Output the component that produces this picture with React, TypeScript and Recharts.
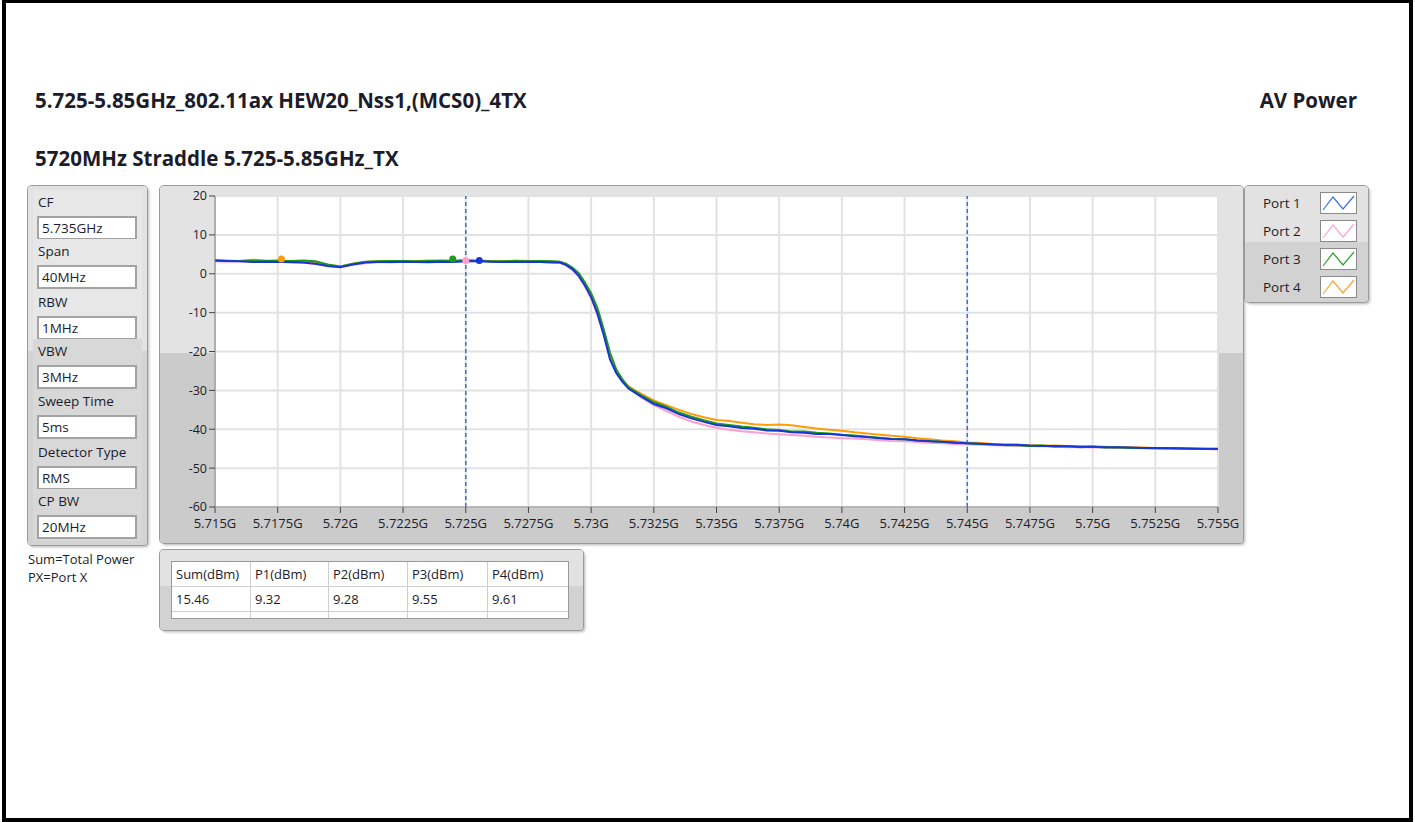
import React from 'react';
import { LineChart, Line, XAxis, YAxis, CartesianGrid, ReferenceLine, ReferenceDot } from 'recharts';

// sweep frequencies in MHz (denser around the band edge)
const FREQ = [
  5715, 5715.5, 5716, 5716.5, 5717, 5717.5, 5718, 5718.5, 5719, 5719.5,
  5720, 5720.5, 5721, 5721.5, 5722, 5722.5, 5723, 5723.5, 5724, 5724.5,
  5725, 5725.5, 5726, 5726.5, 5727, 5727.5, 5728, 5728.5,
  5728.75, 5729, 5729.25, 5729.5, 5729.75, 5730, 5730.25, 5730.5, 5730.75, 5731, 5731.25, 5731.5,
  5732, 5732.5, 5733, 5733.5, 5734, 5734.5, 5735, 5735.5, 5736, 5736.5,
  5737, 5737.5, 5738, 5738.5, 5739, 5739.5, 5740, 5740.5, 5741, 5741.5,
  5742, 5742.5, 5743, 5743.5, 5744, 5744.5, 5745, 5745.5, 5746, 5746.5,
  5747, 5747.5, 5748, 5748.5, 5749, 5749.5, 5750, 5750.5, 5751, 5751.5,
  5752, 5752.5, 5753, 5753.5, 5754, 5754.5, 5755,
];

const PORT1 = [
  3.4, 3.3, 3.2, 3.0, 3.1, 3.0, 3.0, 2.9, 2.6, 2.0, 1.7, 2.4, 2.9, 3.0, 3.0, 3.1, 3.0, 3.0, 3.1, 3.0,
  3.2, 3.3, 3.1, 3.0, 3.0, 3.1, 3.0, 2.9,
  2.9, 2.3, 1.2, -0.5, -3.0, -6.0, -10.2, -15.6, -22.0, -25.5, -27.8, -29.6,
  -31.6, -33.5, -34.6, -36.1, -37.2, -38.1, -38.9, -39.2, -39.7, -39.9,
  -40.3, -40.4, -40.8, -40.9, -41.2, -41.2, -41.5, -41.8, -42.0, -42.3,
  -42.5, -42.6, -42.9, -43.1, -43.2, -43.5, -43.6, -43.7, -43.9, -44.0,
  -44.0, -44.2, -44.3, -44.3, -44.4, -44.5, -44.5, -44.6, -44.6, -44.7,
  -44.8, -44.8, -44.9, -44.9, -45.0, -45.0, -45.1,
];

const PORT2 = [
  3.2, 3.1, 3.2, 3.1, 3.0, 3.2, 2.8, 2.9, 2.5, 1.9, 1.8, 2.3, 2.7, 3.0, 2.9, 3.1, 3.0, 2.8, 3.1, 3.1,
  3.3, 3.2, 3.1, 3.0, 3.1, 3.0, 3.0, 2.9,
  2.8, 2.1, 1.0, -0.6, -3.2, -6.3, -10.6, -15.8, -21.6, -25.4, -27.6, -29.4,
  -31.8, -33.8, -35.3, -36.8, -38.0, -38.9, -39.6, -40.1, -40.5, -40.8,
  -41.1, -41.3, -41.5, -41.7, -41.9, -42.1, -42.3, -42.4, -42.6, -42.8,
  -43.0, -43.1, -43.3, -43.5, -43.6, -43.8, -43.9, -44.0, -44.1, -44.2,
  -44.3, -44.4, -44.4, -44.5, -44.6, -44.6, -44.7, -44.7, -44.8, -44.9,
  -44.9, -45.0, -45.0, -45.1, -45.1, -45.1, -45.2,
];

const PORT3 = [
  3.4, 3.3, 3.3, 3.4, 3.3, 3.4, 3.3, 3.4, 3.2, 2.4, 1.9, 2.6, 3.1, 3.2, 3.3, 3.3, 3.2, 3.3, 3.4, 3.3,
  3.5, 3.3, 3.2, 3.2, 3.3, 3.2, 3.3, 3.2,
  3.1, 2.6, 1.6, 0.2, -2.2, -5.0, -8.8, -14.2, -20.2, -24.6, -27.2, -29.2,
  -31.2, -33.0, -34.2, -35.7, -36.8, -37.7, -38.5, -38.9, -39.3, -39.6,
  -40.0, -40.2, -40.6, -40.6, -40.9, -41.1, -41.4, -41.6, -41.9, -42.2,
  -42.5, -42.6, -42.9, -43.0, -43.3, -43.4, -43.6, -43.8, -43.8, -44.1,
  -44.1, -44.3, -44.2, -44.5, -44.4, -44.6, -44.5, -44.7, -44.6, -44.8,
  -44.8, -44.9, -44.8, -45.0, -45.0, -45.1, -45.0,
];

const PORT4 = [
  3.5, 3.4, 3.3, 3.6, 3.4, 3.3, 3.2, 3.1, 2.8, 2.2, 1.9, 2.6, 3.0, 3.2, 3.2, 3.3, 3.3, 3.4, 3.3, 3.4,
  3.5, 3.4, 3.3, 3.2, 3.4, 3.3, 3.2, 3.1,
  3.0, 2.4, 1.3, -0.3, -2.8, -5.7, -9.9, -15.2, -21.2, -25.1, -27.4, -29.0,
  -30.9, -32.6, -33.8, -35.0, -36.1, -36.9, -37.6, -37.9, -38.3, -38.7,
  -38.9, -38.8, -39.0, -39.4, -39.8, -40.1, -40.4, -40.8, -41.1, -41.4,
  -41.7, -41.9, -42.3, -42.6, -42.9, -43.1, -43.4, -43.5, -43.8, -43.9,
  -44.0, -44.1, -44.2, -44.2, -44.3, -44.4, -44.4, -44.5, -44.6, -44.6,
  -44.7, -44.8, -44.8, -44.9, -44.9, -45.0, -45.0,
];

const X_TICKS = [5715, 5717.5, 5720, 5722.5, 5725, 5727.5, 5730, 5732.5, 5735, 5737.5, 5740, 5742.5, 5745, 5747.5, 5750, 5752.5, 5755];
const X_LABELS = ['5.715G', '5.7175G', '5.72G', '5.7225G', '5.725G', '5.7275G', '5.73G', '5.7325G', '5.735G', '5.7375G', '5.74G', '5.7425G', '5.745G', '5.7475G', '5.75G', '5.7525G', '5.755G'];
const Y_TICKS = [-60, -50, -40, -30, -20, -10, 0, 10, 20];

const CURSORS = [5725, 5745];

// peak markers per port
const MARKER_PORT = ['Port 4', 'Port 3', 'Port 2', 'Port 1'];
const MARKER_FREQ = [5717.65, 5724.48, 5725.0, 5725.54];
const MARKER_LEVEL = [3.8, 3.8, 3.4, 3.4];

const PORT_NAMES = ['Port 1', 'Port 2', 'Port 3', 'Port 4'];
const PORT_COLORS: Record<string, string> = {
  'Port 1': '#1537d6',
  'Port 2': '#ff9ed0',
  'Port 3': '#1f9a1f',
  'Port 4': '#ff9c0a',
};
const LEGEND_COLORS: Record<string, string> = {
  'Port 1': '#3b6ee8',
  'Port 2': '#ffa6d2',
  'Port 3': '#2aa02a',
  'Port 4': '#ffa028',
};

const SETTINGS = [
  { label: 'CF', value: '5.735GHz' },
  { label: 'Span', value: '40MHz' },
  { label: 'RBW', value: '1MHz' },
  { label: 'VBW', value: '3MHz' },
  { label: 'Sweep Time', value: '5ms' },
  { label: 'Detector Type', value: 'RMS' },
  { label: 'CP BW', value: '20MHz' },
];

const TABLE_HEAD = ['Sum(dBm)', 'P1(dBm)', 'P2(dBm)', 'P3(dBm)', 'P4(dBm)'];
const TABLE_VALUES = ['15.46', '9.32', '9.28', '9.55', '9.61'];

const FONT = '"Segoe UI", "Open Sans", sans-serif';
const TEXT = '#1c1c2a';

const rows = FREQ.map((f, i) => ({ f, p1: PORT1[i], p2: PORT2[i], p3: PORT3[i], p4: PORT4[i] }));

const panelStyle: React.CSSProperties = {
  position: 'absolute',
  borderRadius: 4,
  boxShadow: '0 0 0 1px #9a9a9a, 2px 2px 3px rgba(0,0,0,0.3)',
};

const LegendIcon = ({ color }: { color: string }) => (
  <svg width={37} height={22} style={{ position: 'absolute', left: 75, top: 3, background: '#fff', boxShadow: 'inset 0 0 0 1px #8a8a8a' }}>
    <polyline points="3,18 13,5 23,17 34,4" fill="none" stroke={color} strokeWidth={1.2} />
  </svg>
);

export default function App() {
  const boxTops = [30, 79, 130, 179, 229, 280, 329];
  const colW = [79, 78, 79, 80, 80];

  return (
    <div style={{ position: 'absolute', left: 0, top: 0, width: 1415, height: 822, background: '#fff', fontFamily: FONT, color: TEXT }}>
      <div style={{ position: 'absolute', left: 2, top: 0, width: 1411, height: 822, border: '4px solid #000', borderTopWidth: 3, boxSizing: 'border-box' }} />

      <div style={{ position: 'absolute', left: 35, top: 87, fontSize: 20.5, fontWeight: 700, lineHeight: '26px', whiteSpace: 'nowrap' }}>
        5.725-5.85GHz_802.11ax HEW20_Nss1,(MCS0)_4TX
      </div>
      <div style={{ position: 'absolute', left: 1157, width: 200, top: 87, fontSize: 20.5, fontWeight: 700, lineHeight: '26px', textAlign: 'right' }}>
        AV Power
      </div>
      <div style={{ position: 'absolute', left: 35, top: 145, fontSize: 20.5, fontWeight: 700, lineHeight: '26px', whiteSpace: 'nowrap' }}>
        5720MHz Straddle 5.725-5.85GHz_TX
      </div>

      {/* settings panel */}
      <div style={{ ...panelStyle, left: 28, top: 186, width: 119, height: 359, background: 'linear-gradient(#e2e2e2 0%, #e2e2e2 46%, #d3d3d3 46%, #d3d3d3 100%)' }}>
        {SETTINGS.map((s, i) => (
          <React.Fragment key={s.label}>
            <div style={{ position: 'absolute', left: 5, width: 109, top: boxTops[i] - 26, height: 52, background: i < 3 ? '#e7e7e7' : '#d8d8d8' }} />
            <div style={{ position: 'absolute', left: 10, top: boxTops[i] - 25, fontSize: 13.5, lineHeight: '22px', whiteSpace: 'nowrap' }}>{s.label}</div>
            <div style={{ position: 'absolute', left: 9, top: boxTops[i], width: 100, height: 24, boxSizing: 'border-box', background: '#fff', border: '2px solid #a3a3a3', fontSize: 13.5, lineHeight: '20px', paddingLeft: 3 }}>{s.value}</div>
          </React.Fragment>
        ))}
      </div>
      <div style={{ position: 'absolute', left: 28, top: 550, fontSize: 13, lineHeight: '18px' }}>
        Sum=Total Power<br />PX=Port X
      </div>

      {/* graph panel */}
      <div style={{ ...panelStyle, left: 160, top: 186, width: 1083, height: 357, background: 'linear-gradient(#e3e3e3 0%, #e3e3e3 46.8%, #cbcbcb 46.8%, #cbcbcb 100%)' }}>
        <div style={{ position: 'absolute', left: 0, top: 321, width: 1083, height: 36, background: '#cbcbcb', borderRadius: '0 0 4px 4px' }} />
        <div style={{ position: 'absolute', left: 0, top: 0 }}>
          <LineChart width={1083} height={357} data={rows} margin={{ top: 10, right: 25, bottom: 2, left: 15 }}>
            <CartesianGrid stroke="#e2e2e2" strokeWidth={2} fill="#ffffff" />
            <XAxis
              dataKey="f"
              type="number"
              domain={[5715, 5755]}
              ticks={X_TICKS}
              allowDataOverflow
              height={34}
              tickSize={6}
              tickMargin={6}
              interval={0}
              tickFormatter={(v: number) => X_LABELS[X_TICKS.indexOf(v)]}
              tick={{ fontSize: 13, fill: TEXT, fontFamily: FONT }}
              stroke="#8a8a8a"
              tickLine={{ stroke: '#444' }}
            />
            <YAxis
              type="number"
              domain={[-60, 20]}
              ticks={Y_TICKS}
              allowDataOverflow
              width={40}
              tickSize={6}
              tickMargin={2}
              interval={0}
              tick={{ fontSize: 12.5, fill: TEXT, fontFamily: FONT }}
              stroke="#7a7a7a"
              tickLine={{ stroke: '#444' }}
            />
            {CURSORS.map((c) => (
              <ReferenceLine key={c} x={c} stroke="#3a6ee8" strokeWidth={1.5} strokeDasharray="4 3" />
            ))}
            <Line dataKey="p2" name="Port 2" stroke={PORT_COLORS['Port 2']} strokeWidth={2} dot={false} isAnimationActive={false} />
            <Line dataKey="p4" name="Port 4" stroke={PORT_COLORS['Port 4']} strokeWidth={2} dot={false} isAnimationActive={false} />
            <Line dataKey="p3" name="Port 3" stroke={PORT_COLORS['Port 3']} strokeWidth={2} dot={false} isAnimationActive={false} />
            <Line dataKey="p1" name="Port 1" stroke={PORT_COLORS['Port 1']} strokeWidth={2} dot={false} isAnimationActive={false} />
            {MARKER_PORT.map((p, i) => (
              <ReferenceDot key={p} x={MARKER_FREQ[i]} y={MARKER_LEVEL[i]} r={3.5} fill={PORT_COLORS[p]} stroke="none" />
            ))}
          </LineChart>
        </div>
      </div>

      {/* legend panel */}
      <div style={{ ...panelStyle, left: 1245, top: 186, width: 123, height: 116, background: 'linear-gradient(#e2e2e2 0%, #e2e2e2 48%, #d2d2d2 48%, #d2d2d2 100%)' }}>
        {PORT_NAMES.map((p, i) => (
          <div key={p} style={{ position: 'absolute', left: 0, top: 3 + i * 28, width: 123, height: 28 }}>
            <div style={{ position: 'absolute', left: 18, top: 3, fontSize: 13.5, lineHeight: '22px' }}>{p}</div>
            <LegendIcon color={LEGEND_COLORS[p]} />
          </div>
        ))}
      </div>

      {/* power table */}
      <div style={{ ...panelStyle, left: 160, top: 550, width: 423, height: 80, background: 'linear-gradient(#e2e2e2 0%, #e2e2e2 45%, #d2d2d2 45%, #d2d2d2 100%)' }}>
        <div style={{ position: 'absolute', left: 12, top: 12, width: 396, height: 56, background: '#fff', boxShadow: '0 0 0 1px #9a9a9a', overflow: 'hidden' }}>
          {[TABLE_HEAD, TABLE_VALUES, ['', '', '', '', '']].map((row, r) => (
            <div key={r} style={{ position: 'absolute', left: 0, top: r * 25, height: 25, width: 396, borderBottom: '1px solid #cfcfcf', boxSizing: 'border-box' }}>
              {row.map((cell, c) => (
                <div key={c} style={{ position: 'absolute', left: colW.slice(0, c).reduce((a, b) => a + b, 0), width: colW[c], height: 24, borderRight: c < 4 ? '1px solid #cfcfcf' : 'none', boxSizing: 'border-box', fontSize: 13, lineHeight: '24px', paddingLeft: 4, whiteSpace: 'nowrap' }}>
                  {cell}
                </div>
              ))}
            </div>
          ))}
        </div>
      </div>
    </div>
  );
}
